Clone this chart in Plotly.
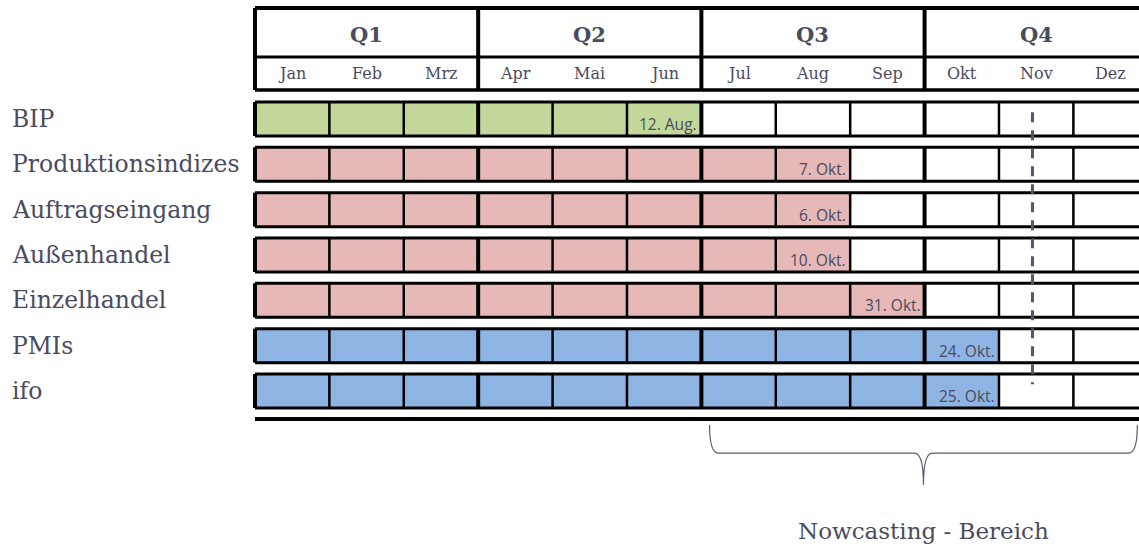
import plotly.graph_objects as go

# ---------------- data ----------------
quarters = ["Q1", "Q2", "Q3", "Q4"]
months = ["Jan", "Feb", "Mrz", "Apr", "Mai", "Jun", "Jul", "Aug", "Sep", "Okt", "Nov", "Dez"]
indicators = ["BIP", "Produktionsindizes", "Auftragseingang", "Außenhandel",
              "Einzelhandel", "PMIs", "ifo"]
months_available = [6, 8, 8, 8, 9, 10, 10]
release_labels = ["12. Aug.", "7. Okt.", "6. Okt.", "10. Okt.", "31. Okt.", "24. Okt.", "25. Okt."]
groups = ["gdp", "hard", "hard", "hard", "hard", "soft", "soft"]
nowcast_month = 10.45          # position of "today" (mid November)
brace_span = [6.11, 11.86]     # Nowcasting range (Jul .. Dez)
brace_label = "Nowcasting - Bereich"

# ---------------- styling ----------------
colors = {"gdp": "#c4d79b", "hard": "#e6b8b7", "soft": "#8db4e2"}
txt = "#4a4b5e"
serif = "DejaVu Serif, Georgia, serif"
sans = "Open Sans, Calibri, sans-serif"

X_RANGE = [-3.427, 11.882]
Y_RANGE = [9.42, -2.625]
ROW_H = 0.75
HDR_TOP, HDR_MID, HDR_BOT = -2.449, -1.368, -0.640
BOTTOM_LINE = 6.618

fig = go.Figure()

# filled cells as horizontal bars
for r, (n, g) in enumerate(zip(months_available, groups)):
    fig.add_trace(go.Bar(
        orientation="h",
        x=[1] * n, base=list(range(n)), y=[r] * n,
        width=ROW_H, marker=dict(color=colors[g], line=dict(width=0)),
        showlegend=False, hoverinfo="skip"))

shapes = []
annotations = []
nm = len(months)

def hline(y, w, x0=0, x1=nm + 0.5, color="black"):
    shapes.append(dict(type="line", xref="x", yref="y", x0=x0, x1=x1, y0=y, y1=y,
                       line=dict(color=color, width=w)))

def vline(x, y0, y1, w, color="black", dash=None):
    ln = dict(color=color, width=w)
    if dash:
        ln["dash"] = dash
    shapes.append(dict(type="line", xref="x", yref="y", x0=x, x1=x, y0=y0, y1=y1, line=ln))

# header
hline(HDR_TOP, 4)
hline(HDR_MID, 3)
hline(HDR_BOT, 3.5)
for q in range(len(quarters) + 1):
    vline(q * 3, HDR_TOP, HDR_BOT, 4)
for q, name in enumerate(quarters):
    annotations.append(dict(x=q * 3 + 1.5, y=(HDR_TOP + HDR_MID) / 2 + 0.04, text="<b>%s</b>" % name,
                            showarrow=False, font=dict(family=serif, size=21, color=txt)))
for m, name in enumerate(months):
    annotations.append(dict(x=m + 0.5, y=(HDR_MID + HDR_BOT) / 2, text=name,
                            showarrow=False, font=dict(family=serif, size=16, color=txt)))

# rows
for r, name in enumerate(indicators):
    top, bot = r - ROW_H / 2, r + ROW_H / 2
    hline(top, 3)
    hline(bot, 3)
    for m in range(nm + 1):
        vline(m, top, bot, 4 if m % 3 == 0 else 2.5)
    annotations.append(dict(x=X_RANGE[0] + 0.13, y=r, text=name, xanchor="left",
                            showarrow=False, font=dict(family=serif, size=23.5, color=txt)))
    annotations.append(dict(x=months_available[r], y=bot, text=release_labels[r],
                            xanchor="right", yanchor="bottom", xshift=-2, yshift=-1,
                            showarrow=False, font=dict(family=sans, size=15.5, color=txt)))

hline(BOTTOM_LINE, 4)

# dashed "today" line
vline(nowcast_month, -0.15, 5.85, 3, color="#555668", dash="10px,8px")

# brace
x0, x1 = brace_span
xm = (x0 + x1) / 2
yt, yh, ytip = 6.75, 7.37, 8.07
dx = 0.12
path = (f"M {x0},{yt} Q {x0},{yh} {x0+dx},{yh} L {xm-dx},{yh} "
        f"Q {xm},{yh} {xm},{ytip} Q {xm},{yh} {xm+dx},{yh} "
        f"L {x1-dx},{yh} Q {x1},{yh} {x1},{yt}")
shapes.append(dict(type="path", xref="x", yref="y", path=path,
                   line=dict(color="#5a5b6a", width=1.2)))
annotations.append(dict(x=xm, y=9.09, text=brace_label, showarrow=False,
                        font=dict(family=serif, size=23, color=txt)))

fig.update_layout(
    width=1139, height=546,
    margin=dict(l=0, r=0, t=0, b=0),
    paper_bgcolor="white", plot_bgcolor="white",
    barmode="overlay", bargap=0,
    xaxis=dict(range=X_RANGE, visible=False, fixedrange=True),
    yaxis=dict(range=Y_RANGE, visible=False, fixedrange=True),
    shapes=shapes, annotations=annotations,
    showlegend=False,
)

fig.write_html("out.html")
